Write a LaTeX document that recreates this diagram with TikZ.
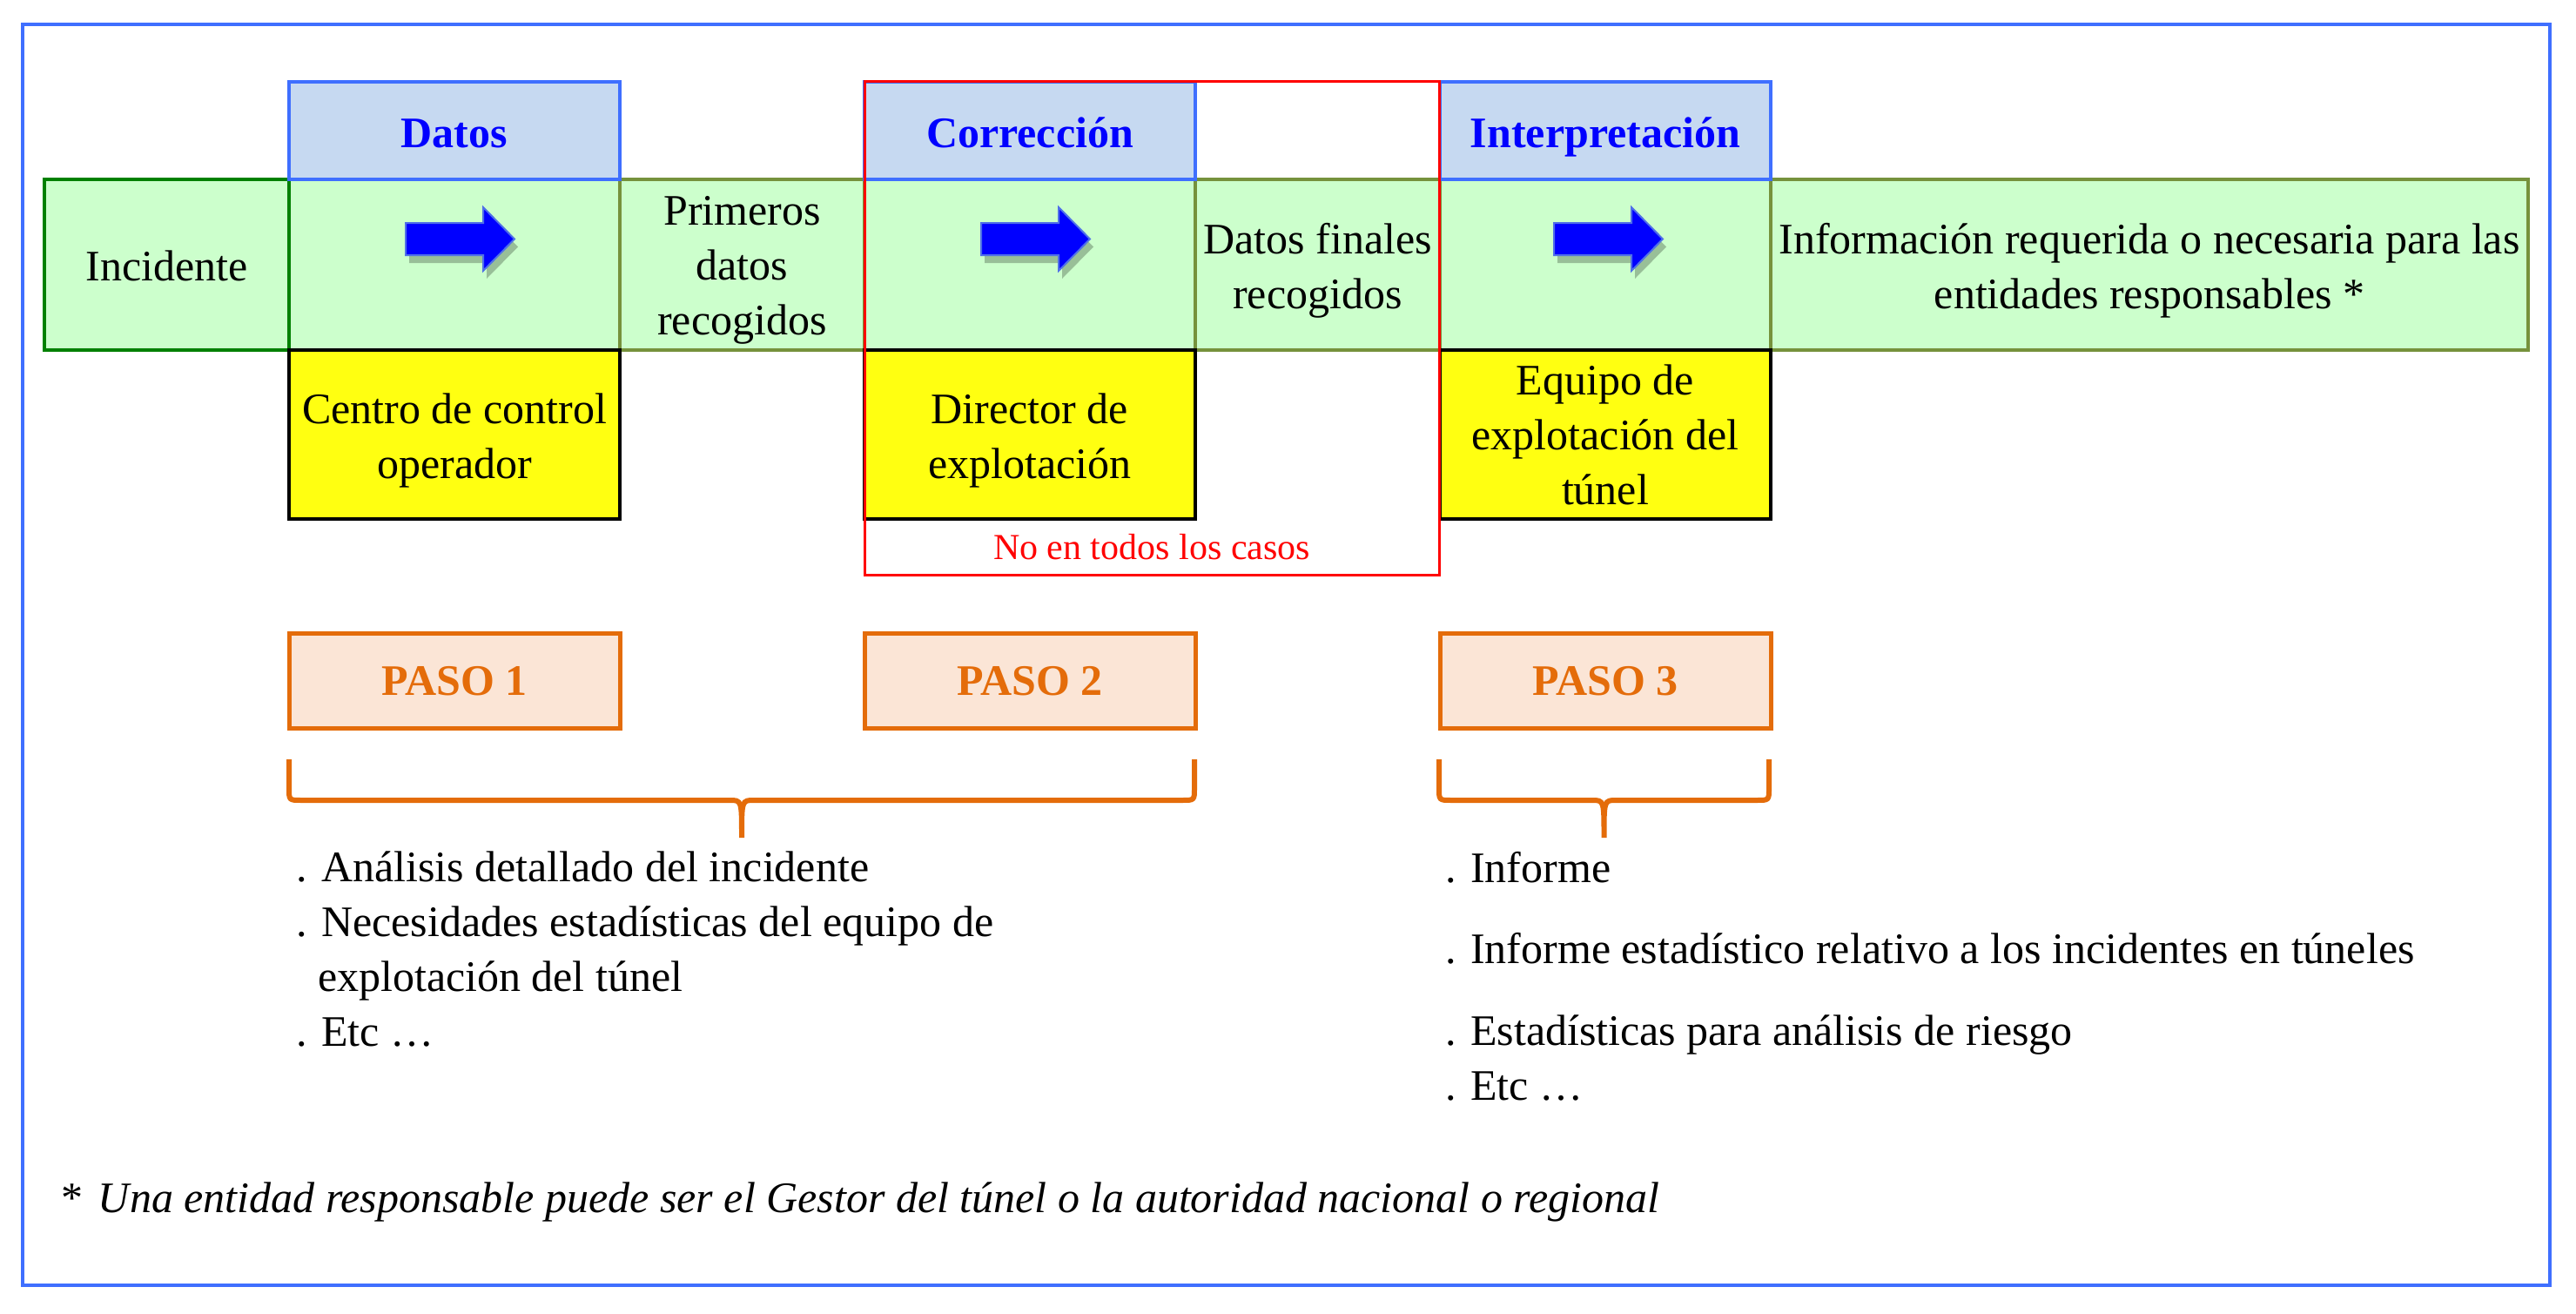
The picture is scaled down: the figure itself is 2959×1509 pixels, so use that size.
\documentclass[tikz,border=0pt]{standalone}
\usepackage{fontspec}
\setmainfont{Liberation Serif}
\usetikzlibrary{positioning,shadows}

\definecolor{frameBlue}{HTML}{3F6FFF}
\definecolor{headFill}{HTML}{C6D9F1}
\definecolor{headText}{HTML}{0000FF}
\definecolor{cellFill}{HTML}{CCFFCC}
\definecolor{cellLine}{HTML}{76923C}
\definecolor{incLine}{HTML}{008000}
\definecolor{roleFill}{HTML}{FFFF11}
\definecolor{pasoFill}{HTML}{FBE5D6}
\definecolor{pasoLine}{HTML}{E46C0A}
\definecolor{arrowBlue}{HTML}{0000FF}
\definecolor{arrowEdge}{HTML}{4F6FE8}

\newcommand\vpos[1]{\rule{0pt}{#1pt}}
\newcommand\dpos{\rule[-12pt]{0pt}{0pt}}

\begin{document}
\begin{tikzpicture}[x=1pt, y=-1pt,
        txt/.style={font=\fontsize{50}{63}\selectfont, align=center, inner sep=0pt, outer sep=0pt},
        cell/.style={txt, fill=cellFill, draw=cellLine, line width=4pt, minimum height=196pt},
        wideCol/.style={minimum width=380pt},
        narrowCol/.style={minimum width=281pt},
        head/.style={txt, wideCol, fill=headFill, draw=frameBlue, line width=4pt, text=headText,
            font=\fontsize{50}{63}\selectfont\bfseries, minimum height=112pt},
        role/.style={txt, wideCol, fill=roleFill, draw=black, line width=4pt, minimum height=194pt},
        paso/.style={txt, wideCol, fill=pasoFill, draw=pasoLine, line width=5pt, text=pasoLine,
            font=\fontsize{50}{63}\selectfont\bfseries, minimum height=109pt},
        listText/.style={txt, align=left},
        bracket/.style={draw=pasoLine, line width=6pt},
        bigArrow/.style={fill=arrowBlue, draw=arrowEdge, line width=2pt,
            drop shadow={shadow xshift=4pt, shadow yshift=-9pt, fill=black, opacity=0.25}}
    ]

    \useasboundingbox (0,0) rectangle (2959,1509);

    \node[cell, narrowCol, draw=incLine] (incidente) at (191.5,304) {\vpos{49}Incidente\dpos};
    \node[cell, wideCol, right=0pt of incidente] (datosCell) {};
    \node[cell, narrowCol, right=0pt of datosCell] (primeros) {\vpos{46}Primeros\\datos\\recogidos\dpos};
    \node[cell, wideCol, right=0pt of primeros] (corrCell) {};
    \node[cell, narrowCol, right=0pt of corrCell] (finales) {\vpos{49}Datos finales\\recogidos\dpos};
    \node[cell, wideCol, right=0pt of finales] (interpCell) {};
    \node[cell, minimum width=870pt, right=0pt of interpCell] (info) {\vpos{49}Información requerida o necesaria para las\\entidades responsables *\dpos};
    \draw[incLine, line width=4pt] (incidente.north west) rectangle (incidente.south east);

    \node[head, above=0pt of datosCell] (datosHead) {\vpos{50}Datos\dpos};
    \node[head, above=0pt of corrCell] (corrHead) {\vpos{50}Corrección\dpos};
    \node[head, above=0pt of interpCell] (interpHead) {\vpos{50}Interpretación\dpos};

    \node[role, below=0pt of datosCell] (centro) {\vpos{49}Centro de control\\operador\dpos};
    \node[role, below=0pt of corrCell] (director) {\vpos{49}Director de\\explotación\dpos};
    \node[role, below=0pt of interpCell] (equipo) {\vpos{46}Equipo de\\explotación del\\túnel\dpos};

    \coordinate (redCorner) at (1653,660);
    \draw[red, line width=3pt] (corrHead.north west) rectangle (redCorner);
    \node[txt, text=red, font=\fontsize{42}{50}\selectfont] (noTodos) at (1323,628) {No en todos los casos};

    \node[paso, below=131pt of centro] (paso1) {\vpos{46}PASO 1\dpos};
    \node[paso, below=131pt of director] (paso2) {\vpos{46}PASO 2\dpos};
    \node[paso, below=131pt of equipo] (paso3) {\vpos{46}PASO 3\dpos};

    \foreach \ax in {466,1127,1785}
        \filldraw[bigArrow] (\ax,256) -- ({\ax+89},256) -- ({\ax+89},238) -- ({\ax+125},274.5)
            -- ({\ax+89},311) -- ({\ax+89},293) -- (\ax,293) -- cycle;

    \foreach \l/\r in {332/1372,1653/2032} {
        \pgfmathsetmacro\m{(\l+\r)/2}
        \draw[bracket] (\l,872) -- (\l,905) .. controls (\l,919) .. ({\l+14},919) -- ({\m-14},919)
            .. controls (\m,919) .. (\m,962) .. controls (\m,919) .. ({\m+14},919)
            -- ({\r-14},919) .. controls (\r,919) .. (\r,905) -- (\r,872);
    }

    \node[listText, anchor=north west] (list1) at (340,978) {. Análisis detallado del incidente\\. Necesidades estadísticas del equipo de\\\hspace*{25pt}explotación del túnel\\. Etc …};
    \node[listText, anchor=north west] (list2) at (1660,978) {. Informe\\[30pt]. Informe estadístico relativo a los incidentes en túneles\\[31pt]. Estadísticas para análisis de riesgo\\. Etc …};

    \node[txt, anchor=west] (nota) at (70,1380) {*\hspace{18pt}\textit{Una entidad responsable puede ser el Gestor del túnel o la autoridad nacional o regional}};

    \draw[frameBlue, line width=4pt] (26,28) rectangle (2929,1476);

\end{tikzpicture}
\end{document}
